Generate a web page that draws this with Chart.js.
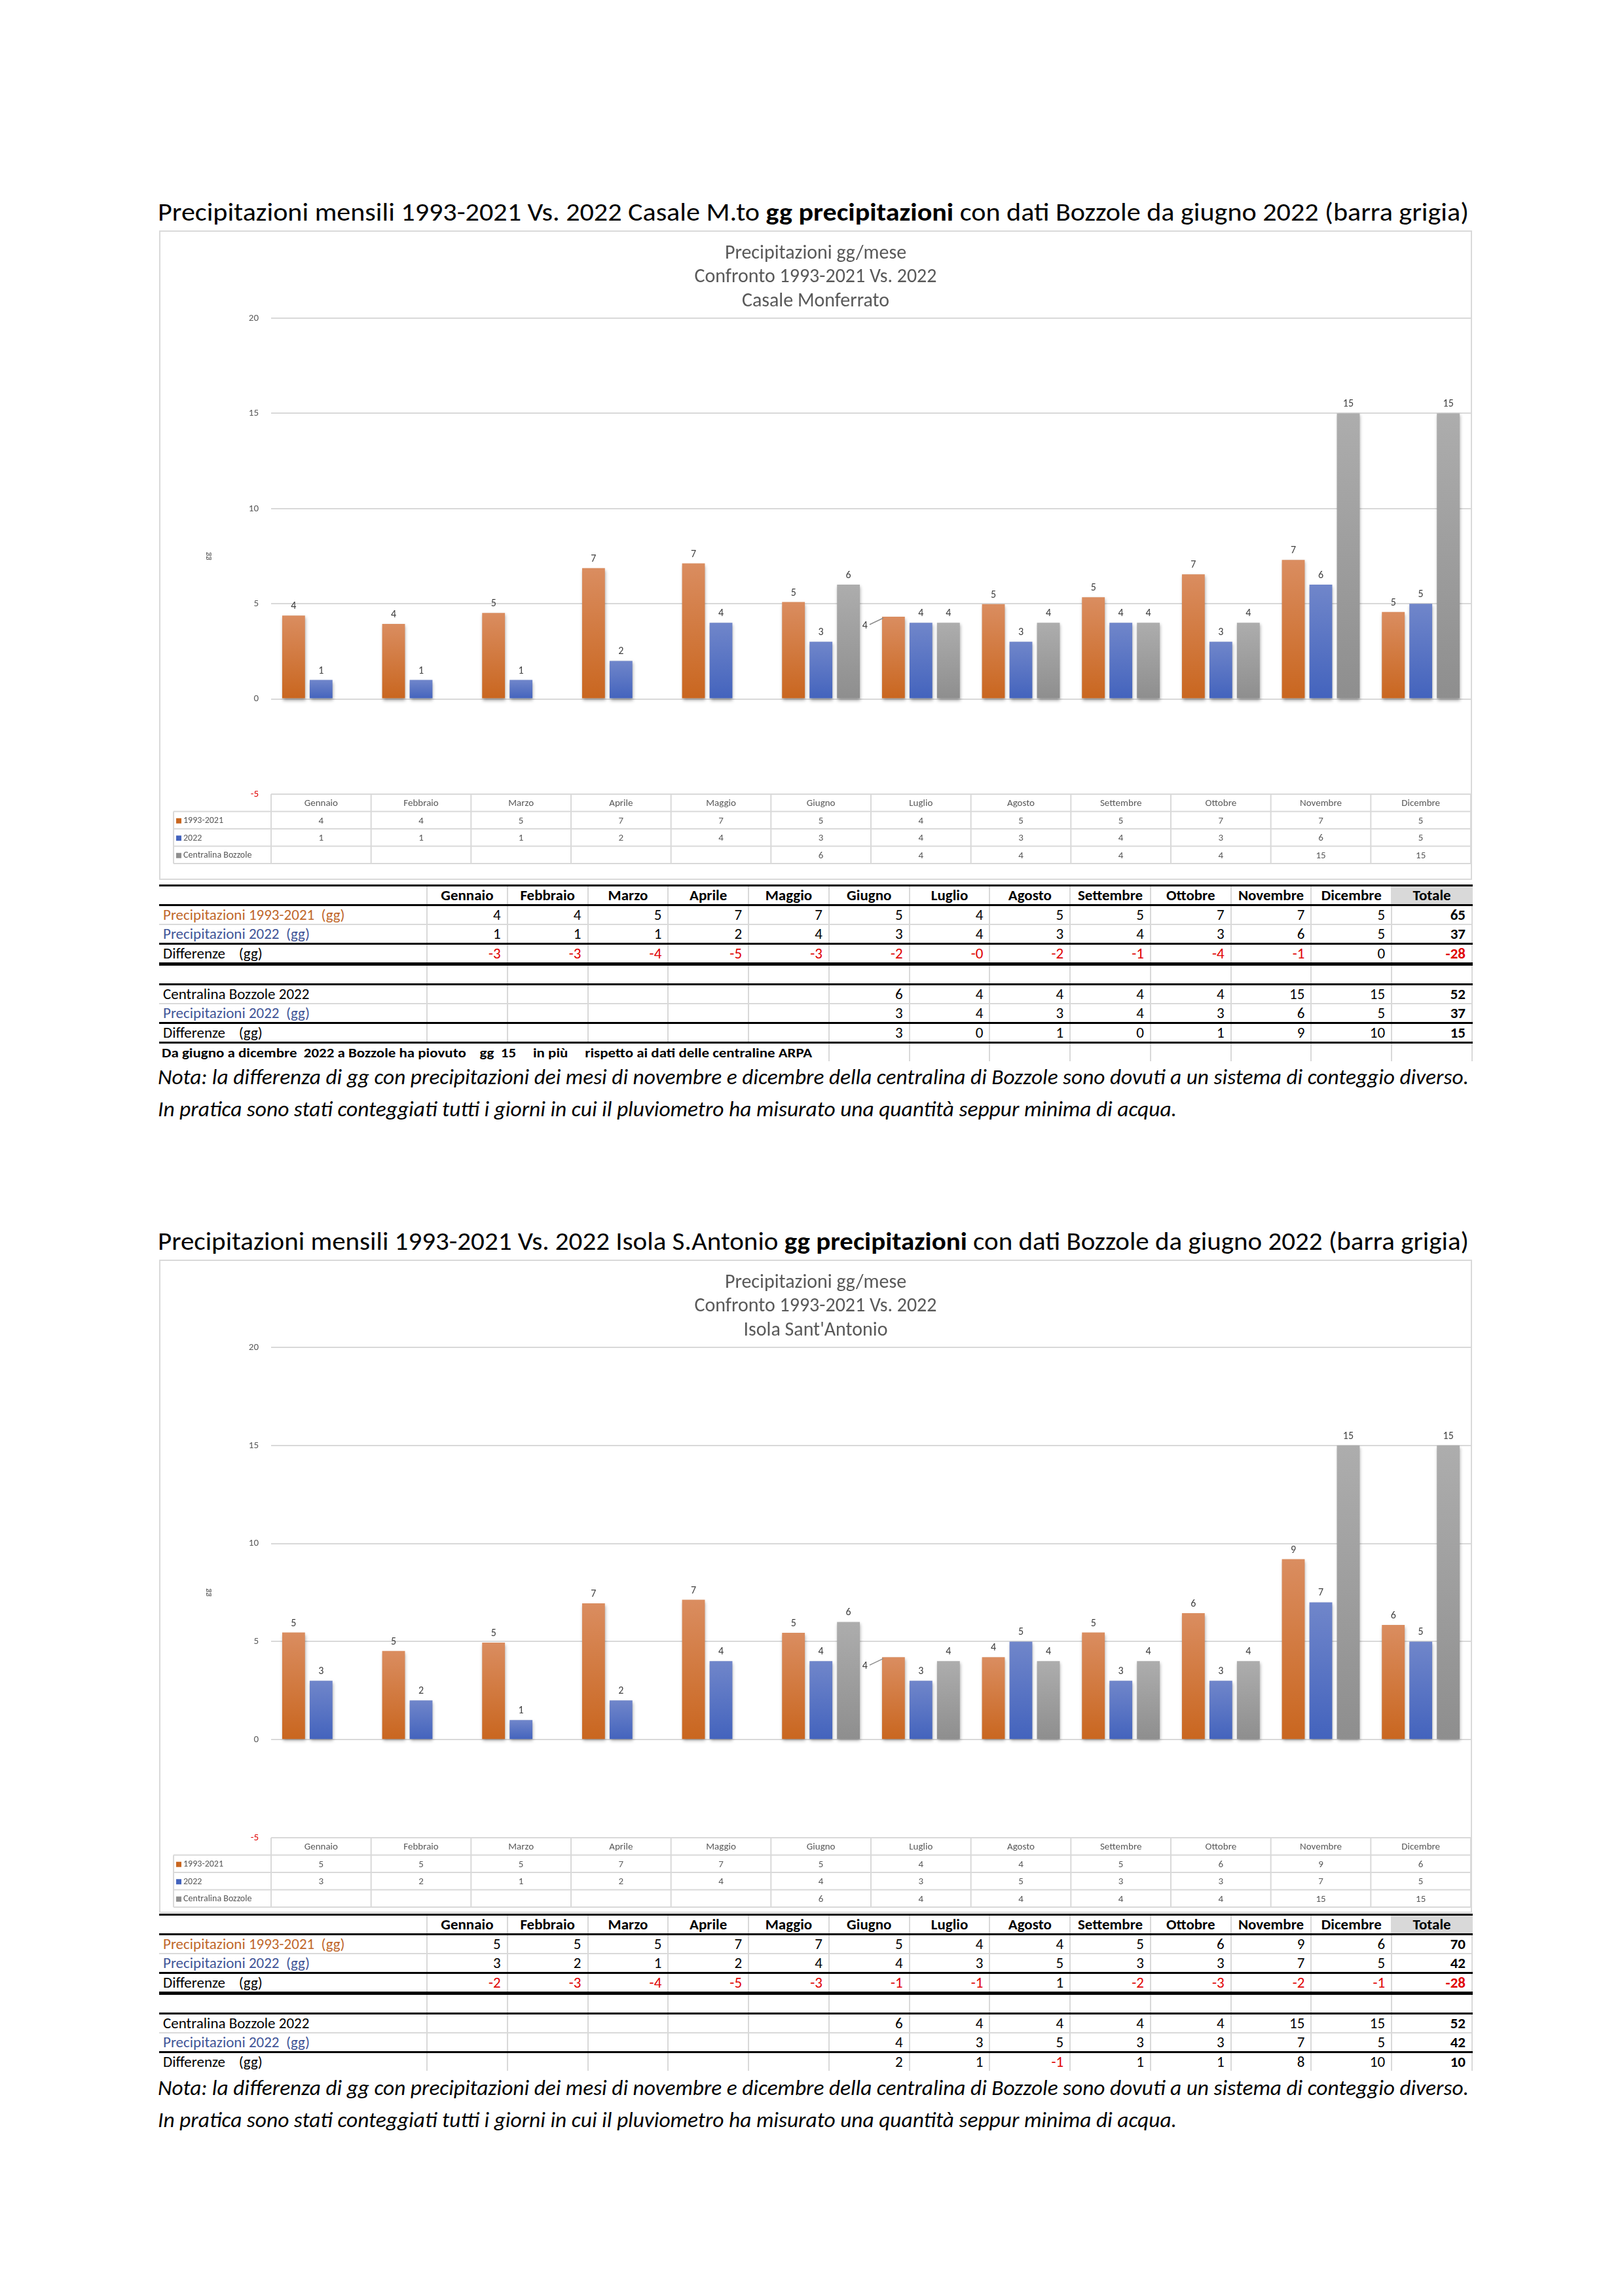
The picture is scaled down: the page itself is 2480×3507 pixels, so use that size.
<!DOCTYPE html>
<html lang="it">
<head>
<meta charset="UTF-8">
<title>Precipitazioni gg/mese 1993-2021 Vs. 2022</title>
<script src="https://cdn.jsdelivr.net/npm/chart.js"></script>
<style>
  body { margin: 0; background: #fff; }
  #page { position: relative; width: 2480px; height: 3507px; overflow: hidden;
          font-family: Carlito, 'Open Sans', sans-serif; color: #000; }
  .pageTitle { position: absolute; left: 241px; font-size: 38px; line-height: 46px;
               white-space: nowrap; transform-origin: left center; }
  .box { position: absolute; left: 243px; width: 2005px;
         border: 2px solid #d9d9d9; box-sizing: border-box; }
  .box canvas { position: absolute; left: 0; top: 0; }
  .nota { position: absolute; left: 241px; font-size: 32px; line-height: 40px; font-style: italic;
          white-space: nowrap; transform-origin: left center; }
  table.xl { position: absolute; left: 243px; width: 2005px; table-layout: fixed;
             border-collapse: collapse; font-size: 23px; }
  table.xl td { height: 27px; padding: 0 9px 0 4px; text-align: right; white-space: pre;
                border-left: 2px solid #d9d9d9; border-right: 2px solid #d9d9d9; line-height: 1; }
  table.xl td:first-child { border-left: none; text-align: left; padding-left: 6px; }
  table.xl tr.head td { font-weight: bold; text-align: center; padding: 0; }
  table.xl td.tot { font-weight: bold; }
  table.xl tr.head td.tot { background: #d9d9d9; }
  .neg { color: #e00000; }
  .fitline { display: inline-block; font-weight: bold; font-size: 20px; transform-origin: left center; }
</style>
</head>
<body>
<div id="page"></div>
<script>
  // ---- data ----
  const months = ['Gennaio', 'Febbraio', 'Marzo', 'Aprile', 'Maggio', 'Giugno',
                  'Luglio', 'Agosto', 'Settembre', 'Ottobre', 'Novembre', 'Dicembre'];

  // bar heights 1993-2021 (the tables print them rounded)
  const casaleMedia = [4.38, 3.94, 4.52, 6.87, 7.12, 5.09, 4.32, 4.98, 5.34, 6.55, 7.30, 4.57];
  const casale2022 = [1, 1, 1, 2, 4, 3, 4, 3, 4, 3, 6, 5];
  const isolaMedia = [5.46, 4.52, 4.95, 6.95, 7.13, 5.45, 4.20, 4.20, 5.46, 6.45, 9.20, 5.85];
  const isola2022 = [3, 2, 1, 2, 4, 4, 3, 5, 3, 3, 7, 5];
  const bozzole2022 = [null, null, null, null, null, 6, 4, 4, 4, 4, 15, 15];

  // values as printed in the tables
  const casaleTabMedia = ['4', '4', '5', '7', '7', '5', '4', '5', '5', '7', '7', '5'];
  const casaleTab2022 = ['1', '1', '1', '2', '4', '3', '4', '3', '4', '3', '6', '5'];
  const casaleTabDiff = ['-3', '-3', '-4', '-5', '-3', '-2', '-0', '-2', '-1', '-4', '-1', '0'];
  const casaleTot = ['65', '37', '-28'];
  const casaleBozz2022 = ['', '', '', '', '', '3', '4', '3', '4', '3', '6', '5'];
  const casaleBozzDiff = ['', '', '', '', '', '3', '0', '1', '0', '1', '9', '10'];
  const casaleBozzTot = ['52', '37', '15'];

  const isolaTabMedia = ['5', '5', '5', '7', '7', '5', '4', '4', '5', '6', '9', '6'];
  const isolaTab2022 = ['3', '2', '1', '2', '4', '4', '3', '5', '3', '3', '7', '5'];
  const isolaTabDiff = ['-2', '-3', '-4', '-5', '-3', '-1', '-1', '1', '-2', '-3', '-2', '-1'];
  const isolaTot = ['70', '42', '-28'];
  const isolaBozz2022 = ['', '', '', '', '', '4', '3', '5', '3', '3', '7', '5'];
  const isolaBozzDiff = ['', '', '', '', '', '2', '1', '-1', '1', '1', '8', '10'];
  const isolaBozzTot = ['52', '42', '10'];

  const tabBozzole = ['', '', '', '', '', '6', '4', '4', '4', '4', '15', '15'];

  const FONT = "Carlito, 'Open Sans', sans-serif";
  const GREY_TXT = '#595959';
  const ORANGE = ['#da8d60', '#c9661f'];
  const BLUE = ['#7086ca', '#4363bd'];
  const GREY = ['#adadad', '#8e8e8e'];

  Chart.defaults.font.family = FONT;

  const page = document.getElementById('page');

  // vertical gradient per bar, lighter on top
  const gradFill = (cols) => (ctx) => {
    const chart = ctx.chart;
    if (!chart.chartArea || ctx.type !== 'data' || ctx.raw == null) return cols[1];
    const y0 = chart.scales.y.getPixelForValue(0);
    const y1 = chart.scales.y.getPixelForValue(ctx.raw);
    if (Math.abs(y1 - y0) < 1) return cols[1];
    const g = chart.ctx.createLinearGradient(0, y1, 0, y0);
    g.addColorStop(0, cols[0]);
    g.addColorStop(1, cols[1]);
    return g;
  };

  // three-line title inside the chart box
  const chartTitle = {
    id: 'chartTitle',
    afterDraw(chart, args, opts) {
      const c = chart.ctx;
      c.save();
      c.font = '30px ' + FONT;
      c.fillStyle = GREY_TXT;
      c.textAlign = 'center';
      c.textBaseline = 'middle';
      const k = 370 / c.measureText(opts.lines[1]).width;
      opts.lines.forEach((t, i) => {
        c.fillText(t, chart.width / 2, opts.y[i], c.measureText(t).width * Math.min(k, 1));
      });
      c.restore();
    }
  };

  // shadow under bars + value labels
  const barDecor = {
    id: 'barDecor',
    beforeDatasetsDraw(chart) {
      const c = chart.ctx;
      c.save();
      c.shadowColor = 'rgba(0,0,0,0.35)';
      c.shadowBlur = 5;
      c.shadowOffsetX = 1;
      c.shadowOffsetY = 3;
    },
    afterDatasetsDraw(chart, args, opts) {
      const c = chart.ctx;
      c.restore();
      c.save();
      c.font = '16px ' + FONT;
      c.fillStyle = '#404040';
      c.strokeStyle = '#8c8c8c';
      c.lineWidth = 1.5;
      c.textBaseline = 'bottom';
      chart.data.datasets.forEach((ds, di) => {
        chart.getDatasetMeta(di).data.forEach((bar, i) => {
          const v = ds.data[i];
          if (v == null) return;
          const txt = String(Math.round(v));
          if (opts.moved && opts.moved[0] === di && opts.moved[1] === i) {
            // this label was dragged to the left of its bar, with a leader line
            const lx = bar.x - bar.width / 2 - 22;
            c.textAlign = 'right';
            c.textBaseline = 'middle';
            c.fillText(txt, lx, bar.y + 14);
            c.beginPath();
            c.moveTo(lx + 3, bar.y + 12);
            c.lineTo(bar.x - bar.width / 2 + 2, bar.y + 2);
            c.stroke();
            c.textBaseline = 'bottom';
            return;
          }
          c.textAlign = 'center';
          c.fillText(txt, bar.x, bar.y - 6);
        });
      });
      c.restore();
    }
  };

  // Excel style data table under the plot
  const dataTable = {
    id: 'dataTable',
    afterDraw(chart, args, opts) {
      const { ctx: c, chartArea: a, scales: { x } } = chart;
      const n = chart.data.labels.length;
      const step = (a.right - a.left) / n;
      const rowH = opts.rowH;
      const top = a.bottom;
      const legL = opts.legendLeft;
      const nRows = opts.rows.length + 1;
      c.save();
      c.strokeStyle = '#d9d9d9';
      c.lineWidth = 2;
      c.beginPath();
      for (let r = 1; r <= nRows; r++) {
        c.moveTo(legL, top + r * rowH);
        c.lineTo(a.right, top + r * rowH);
      }
      for (let i = 0; i <= n; i++) {
        const xx = a.left + i * step;
        c.moveTo(xx, top);
        c.lineTo(xx, top + nRows * rowH);
      }
      c.moveTo(legL, top + rowH);
      c.lineTo(legL, top + nRows * rowH);
      c.stroke();

      c.fillStyle = GREY_TXT;
      c.textAlign = 'center';
      c.textBaseline = 'middle';
      c.font = '15px ' + FONT;
      chart.data.labels.forEach((m, i) => c.fillText(m, x.getPixelForValue(i), top + rowH / 2 + 1));
      opts.rows.forEach((row, r) => {
        const cy = top + (r + 1.5) * rowH + 1;
        c.fillStyle = GREY_TXT;
        c.textAlign = 'center';
        row.values.forEach((v, i) => c.fillText(v, x.getPixelForValue(i), cy));
        c.fillStyle = row.color;
        c.fillRect(legL + 4, cy - 4, 8, 8);
        c.fillStyle = GREY_TXT;
        c.textAlign = 'left';
        c.font = '14px ' + FONT;
        c.fillText(row.label, legL + 15, cy);
        c.font = '15px ' + FONT;
      });
      c.restore();
    }
  };

  function makeChart(canvas, lines, media, y2022, tabMedia, tab2022, padBottom) {
    return new Chart(canvas, {
      type: 'bar',
      data: {
        labels: months,
        datasets: [
          { label: '1993-2021', data: media, backgroundColor: gradFill(ORANGE) },
          { label: '2022', data: y2022, backgroundColor: gradFill(BLUE) },
          { label: 'Centralina Bozzole', data: bozzole2022, backgroundColor: gradFill(GREY) }
        ]
      },
      options: {
        responsive: false,
        devicePixelRatio: 1,
        animation: false,
        datasets: { bar: { categoryPercentage: 0.825, barPercentage: 0.83 } },
        layout: { padding: { top: 132, bottom: padBottom, left: 0, right: 0 } },
        scales: {
          x: { display: false },
          y: {
            min: -5,
            max: 20,
            ticks: {
              stepSize: 5,
              padding: 19,
              font: { size: 15 },
              color: (ctx) => (ctx.tick && ctx.tick.value < 0 ? '#e00000' : GREY_TXT)
            },
            grid: { color: '#d9d9d9', lineWidth: 2, drawTicks: false },
            border: { display: false },
            title: { display: true, text: 'gg', font: { size: 13 }, color: GREY_TXT, padding: { top: 65, bottom: 0 } },
            afterFit: (scale) => { scale.width = 169; }
          }
        },
        plugins: {
          legend: { display: false },
          tooltip: { enabled: false },
          chartTitle: { lines: lines, y: [33, 69, 106] },
          barDecor: { moved: [0, 6] },
          dataTable: {
            rowH: 26.5,
            legendLeft: 20,
            rows: [
              { label: '1993-2021', color: ORANGE[1], values: tabMedia },
              { label: '2022', color: BLUE[1], values: tab2022 },
              { label: 'Centralina Bozzole', color: GREY[1], values: tabBozzole }
            ]
          }
        }
      },
      plugins: [chartTitle, barDecor, dataTable]
    });
  }

  function cell(v, extra) {
    const cls = [];
    if (extra) cls.push(extra);
    if (v.startsWith('-')) cls.push('neg');
    return `<td class="${cls.join(' ')}">${v}</td>`;
  }

  const THICK = '3px solid #000';
  const THIN = '2px solid #d9d9d9';

  function buildTable(top, spec) {
    const t = document.createElement('table');
    t.className = 'xl';
    t.style.top = top + 'px';
    let html = '<colgroup><col style="width:409px">' + '<col style="width:122.77px">'.repeat(13) + '</colgroup>';
    html += `<tr class="head" style="border-top:${THICK};border-bottom:${THICK}"><td></td>` +
      months.map(m => `<td>${m}</td>`).join('') + '<td class="tot">Totale</td></tr>';
    spec.rows.forEach(r => {
      html += `<tr style="border-bottom:${r.bottom}">`;
      html += `<td style="color:${r.color}">${r.label}</td>`;
      html += r.values.map(v => cell(v)).join('');
      html += r.total === null ? '<td></td>' : cell(r.total, 'tot');
      html += '</tr>';
    });
    if (spec.note) {
      html += `<tr><td colspan="6" style="padding-left:4px"><span class="fitline" data-fit="993">${spec.note}</span></td>` +
        '<td></td>'.repeat(8) + '</tr>';
    }
    t.innerHTML = html;
    page.appendChild(t);
  }

  function section(base, titleHtml, lines, media, y2022, tabs, withNote, boxH, padBottom) {
    const title = document.createElement('div');
    title.className = 'pageTitle';
    title.dataset.fit = '2002';
    title.style.top = (base + 301) + 'px';
    title.innerHTML = titleHtml;
    page.appendChild(title);

    const box = document.createElement('div');
    box.className = 'box';
    box.style.top = (base + 352) + 'px';
    box.style.height = boxH + 'px';
    const cv = document.createElement('canvas');
    cv.width = 2001;
    cv.height = boxH - 4;
    cv.style.width = '2001px';
    cv.style.height = (boxH - 4) + 'px';
    box.appendChild(cv);
    page.appendChild(box);
    makeChart(cv, lines, media, y2022, tabs.media, tabs.y2022, padBottom);

    const empty = months.map(() => '');
    buildTable(base + 1351, {
      rows: [
        { label: 'Precipitazioni 1993-2021  (gg)', color: '#c0672a', values: tabs.media, total: tabs.tot[0], bottom: THIN },
        { label: 'Precipitazioni 2022  (gg)', color: '#3f5597', values: tabs.y2022, total: tabs.tot[1], bottom: THICK },
        { label: 'Differenze    (gg)', color: '#000', values: tabs.diff, total: tabs.tot[2], bottom: '5px solid #000' },
        { label: ' ', color: '#000', values: empty, total: null, bottom: THICK },
        { label: 'Centralina Bozzole 2022', color: '#000', values: tabBozzole, total: tabs.bozzTot[0], bottom: THIN },
        { label: 'Precipitazioni 2022  (gg)', color: '#3f5597', values: tabs.bozz2022, total: tabs.bozzTot[1], bottom: THICK },
        { label: 'Differenze    (gg)', color: '#000', values: tabs.bozzDiff, total: tabs.bozzTot[2], bottom: withNote ? THICK : 'none' }
      ],
      note: withNote ? 'Da giugno a dicembre  2022 a Bozzole ha piovuto    gg  15     in più     rispetto ai dati delle centraline ARPA' : null
    });

    const noteTop = withNote ? base + 1626 : base + 1598;
    const n1 = document.createElement('div');
    n1.className = 'nota';
    n1.dataset.fit = '2002';
    n1.style.top = noteTop + 'px';
    n1.textContent = 'Nota: la differenza di gg con precipitazioni dei mesi di novembre e dicembre della centralina di Bozzole sono dovuti a un sistema di conteggio diverso.';
    page.appendChild(n1);
    const n2 = document.createElement('div');
    n2.className = 'nota';
    n2.dataset.fit = '1556';
    n2.style.top = (noteTop + 49) + 'px';
    n2.textContent = 'In pratica sono stati conteggiati tutti i giorni in cui il pluviometro ha misurato una quantità seppur minima di acqua.';
    page.appendChild(n2);
  }

  section(0,
    'Precipitazioni mensili 1993-2021 Vs. 2022 Casale M.to <b>gg precipitazioni</b> con dati Bozzole da giugno 2022 (barra grigia)',
    ['Precipitazioni gg/mese', 'Confronto 1993-2021 Vs. 2022', 'Casale Monferrato'],
    casaleMedia, casale2022,
    { media: casaleTabMedia, y2022: casaleTab2022, diff: casaleTabDiff, tot: casaleTot,
      bozz2022: casaleBozz2022, bozzDiff: casaleBozzDiff, bozzTot: casaleBozzTot },
    true, 992, 129);

  section(1572,
    'Precipitazioni mensili 1993-2021 Vs. 2022 Isola S.Antonio <b>gg precipitazioni</b> con dati Bozzole da giugno 2022 (barra grigia)',
    ['Precipitazioni gg/mese', 'Confronto 1993-2021 Vs. 2022', "Isola Sant'Antonio"],
    isolaMedia, isola2022,
    { media: isolaTabMedia, y2022: isolaTab2022, diff: isolaTabDiff, tot: isolaTot,
      bozz2022: isolaBozz2022, bozzDiff: isolaBozzDiff, bozzTot: isolaBozzTot },
    false, 998, 113);

  // squeeze/stretch long text lines to the widths measured on the original
  function fitAll() {
    document.querySelectorAll('[data-fit]').forEach(el => {
      el.style.transform = 'none';
      const w = el.getBoundingClientRect().width;
      if (w > 0) el.style.transform = `scaleX(${(+el.dataset.fit / w).toFixed(4)})`;
    });
  }
  fitAll();
</script>
</body>
</html>
